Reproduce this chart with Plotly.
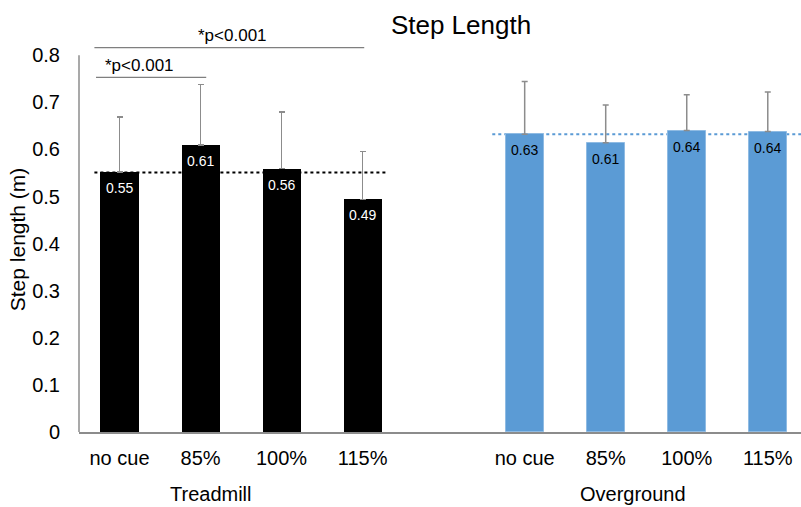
import plotly.graph_objects as go

# ---- data ----
conditions = ["no cue", "85%", "100%", "115%"]
groups = ["Treadmill", "Overground"]
treadmill_mean = [0.552, 0.609, 0.559, 0.494]
treadmill_sd = [0.117, 0.129, 0.120, 0.102]
overground_mean = [0.632, 0.614, 0.640, 0.638]
overground_sd = [0.112, 0.080, 0.076, 0.084]
treadmill_ref = 0.551
overground_ref = 0.632
sig_labels = ["*p<0.001", "*p<0.001"]
y_ticks = [0, 0.1, 0.2, 0.3, 0.4, 0.5, 0.6, 0.7, 0.8]

# ---- layout helpers (positions) ----
tm_x = [0, 1, 2, 3]
og_x = [5, 6, 7, 8]
YMAX = 0.845
FONT = "Liberation Sans, Arial, sans-serif"
BLUE = "#5B9BD5"
GREY = "#8c8c8c"

fig = go.Figure()

fig.add_trace(go.Bar(
    x=tm_x, y=treadmill_mean, width=0.47,
    marker=dict(color="black", line=dict(width=0)),
    error_y=dict(type="data", array=treadmill_sd, arrayminus=[0] * 4,
                 symmetric=False, color=GREY, thickness=1.5, width=3),
    showlegend=False, hoverinfo="skip",
))
fig.add_trace(go.Bar(
    x=og_x, y=overground_mean, width=0.47,
    marker=dict(color=BLUE, line=dict(width=1, color="#8fbbe3")),
    error_y=dict(type="data", array=overground_sd, arrayminus=[0] * 4,
                 symmetric=False, color=GREY, thickness=1.5, width=3),
    showlegend=False, hoverinfo="skip",
))

shapes = []
# reference dotted lines
shapes.append(dict(type="line", xref="x", yref="y", x0=-0.31, x1=3.30,
                   y0=treadmill_ref, y1=treadmill_ref, layer="below",
                   line=dict(color="black", width=2, dash="dot")))
shapes.append(dict(type="line", xref="x", yref="y", x0=4.6, x1=8.41,
                   y0=overground_ref, y1=overground_ref, layer="below",
                   line=dict(color=BLUE, width=2, dash="dot")))
# significance brackets
shapes.append(dict(type="line", xref="x", yref="y", x0=-0.29, x1=1.07,
                   y0=0.753, y1=0.753, line=dict(color="#7f7f7f", width=1.2)))
shapes.append(dict(type="line", xref="x", yref="y", x0=-0.31, x1=3.02,
                   y0=0.816, y1=0.816, line=dict(color="#7f7f7f", width=1.2)))
# y axis line (only up to 0.8)
shapes.append(dict(type="line", xref="paper", yref="paper", x0=0, x1=0,
                   y0=0, y1=y_ticks[-1] / YMAX,
                   line=dict(color=GREY, width=1.5)))

annotations = []
# value labels inside the bar tops
for xs, ys, col in ((tm_x, treadmill_mean, "white"), (og_x, overground_mean, "black")):
    for xv, yv in zip(xs, ys):
        annotations.append(dict(x=xv, y=yv, xref="x", yref="y", text=f"{yv:.2f}",
                                showarrow=False, yanchor="top", yshift=-6,
                                font=dict(size=14, family=FONT, color=col)))

annotations += [
    dict(x=0.25, y=0.778, xref="x", yref="y", text=sig_labels[0],
         showarrow=False, font=dict(size=17, family=FONT, color="black")),
    dict(x=1.40, y=0.842, xref="x", yref="y", text=sig_labels[1],
         showarrow=False, font=dict(size=17, family=FONT, color="black")),
    dict(x=1.13, y=-0.155, xref="x", yref="paper", text=groups[0],
         showarrow=False, yanchor="middle",
         font=dict(size=20, family=FONT, color="black")),
    dict(x=6.34, y=-0.155, xref="x", yref="paper", text=groups[1],
         showarrow=False, yanchor="middle",
         font=dict(size=20, family=FONT, color="black")),
    dict(x=-0.084, y=0.41, xref="paper", yref="y", text="Step length (m)",
         textangle=-90, showarrow=False, xanchor="center", yanchor="middle",
         font=dict(size=21, family=FONT, color="black")),
]

fig.update_layout(
    width=801, height=507,
    margin=dict(l=79, r=0, t=34, b=75, pad=0),
    plot_bgcolor="white", paper_bgcolor="white",
    title=dict(text="Step Length", x=461 / 801, xanchor="center",
               y=1 - 25 / 507, yanchor="middle", yref="container",
               font=dict(size=26, family=FONT, color="black")),
    font=dict(family=FONT, color="black"),
    xaxis=dict(range=[-0.5, 8.41], tickvals=tm_x + og_x,
               ticktext=conditions + conditions,
               showgrid=False, zeroline=False,
               showline=True, linecolor=GREY, linewidth=2,
               ticks="outside", ticklen=7, tickcolor="rgba(0,0,0,0)",
               tickfont=dict(size=20, family=FONT, color="black")),
    yaxis=dict(range=[0, YMAX], tickvals=y_ticks,
               ticktext=[f"{v:g}" for v in y_ticks],
               showgrid=False, zeroline=False, showline=False,
               ticks="outside", ticklen=14, tickcolor="rgba(0,0,0,0)",
               tickfont=dict(size=20, family=FONT, color="black")),
    shapes=shapes, annotations=annotations,
    bargap=0, hovermode=False,
)

fig.write_html(
    "out.html",
    config={"displayModeBar": False},
    post_script="document.body.style.margin='0';document.body.style.overflow='hidden';",
)
